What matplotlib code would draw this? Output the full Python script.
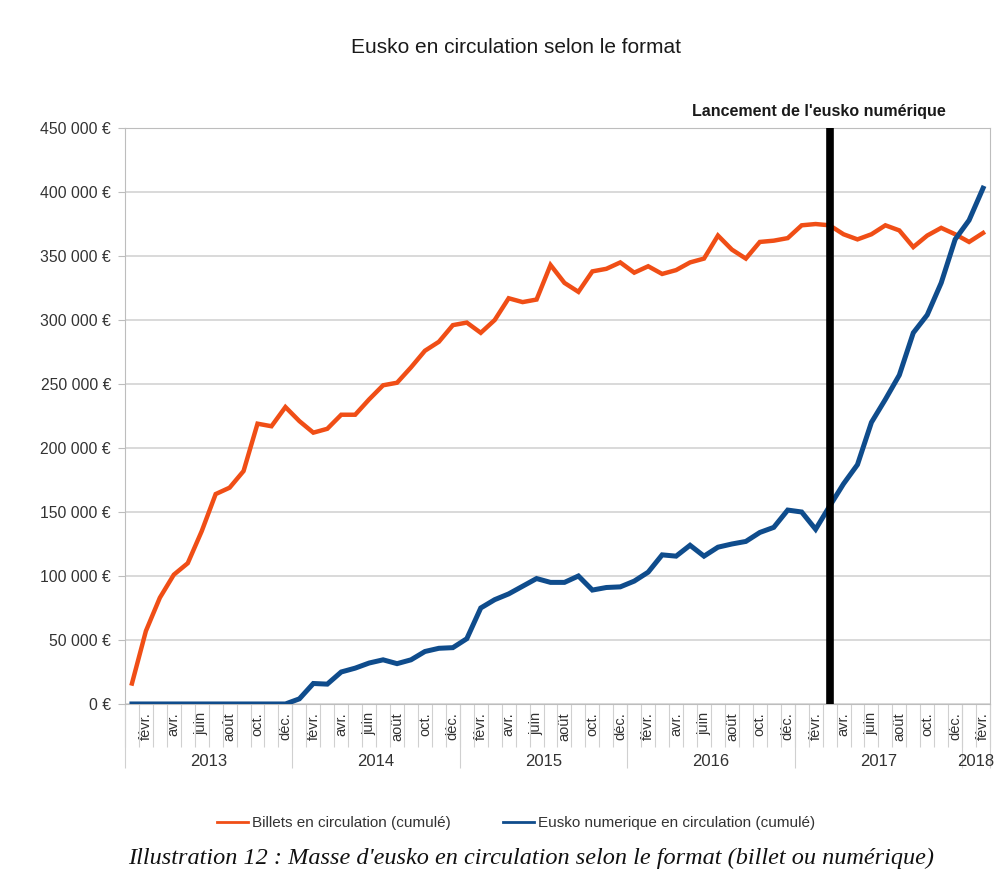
import matplotlib

matplotlib.use("Agg")
import matplotlib.pyplot as plt
from matplotlib.ticker import FuncFormatter

plt.rcParams["font.family"] = ["Liberation Sans", "DejaVu Sans"]

# month-by-month values, jan 2013 .. feb 2018
month_names = ["janv.", "févr.", "mars", "avr.", "mai", "juin",
               "juil.", "août", "sept.", "oct.", "nov.", "déc."]
years = ["2013", "2014", "2015", "2016", "2017", "2018"]
n_months = 62

billets = [16000, 57000, 83000, 101000, 110000, 135000, 164000, 169000, 182000, 219000, 217000, 232000,
           221000, 212000, 215000, 226000, 226000, 238000, 249000, 251000, 263000, 276000, 283000, 296000,
           298000, 290000, 300000, 317000, 314000, 316000, 343000, 329000, 322000, 338000, 340000, 345000,
           337000, 342000, 336000, 339000, 345000, 348000, 366000, 355000, 348000, 361000, 362000, 364000,
           374000, 375000, 374000, 367000, 363000, 367000, 374000, 370000, 357000, 366000, 372000, 367000,
           361000, 368000]
numerique = [0, 0, 0, 0, 0, 0, 0, 0, 0, 0, 0, 0,
             4000, 16000, 15500, 25000, 28000, 32000, 34500, 31500, 34500, 41000, 43500, 44000,
             51000, 75000, 81500, 86000, 92000, 98000, 95000, 95000, 100000, 89000, 91000, 91500,
             96000, 103000, 116500, 115500, 124000, 115500, 122500, 125000, 127000, 134000, 138000, 151500,
             150000, 136500, 154500, 172000, 187000, 220000, 238000, 257000, 290000, 304000, 329000, 363000,
             378000, 403000]
launch_index = 50  # mars 2017

labels = [month_names[i % 12] for i in range(n_months)]
x = list(range(n_months))

fig = plt.figure(figsize=(9.95, 8.77), dpi=100)
ax = fig.add_axes([0.1256, 0.1973, 0.8694, 0.6567])

ax.plot(x, billets, color="#f04e16", lw=3.2, solid_joinstyle="miter",
        label="Billets en circulation (cumulé)", zorder=3)
ax.plot(x, numerique, color="#0f4c8c", lw=3.6, solid_joinstyle="miter",
        label="Eusko numerique en circulation (cumulé)", zorder=3)
ax.axvline(launch_index, color="black", lw=5.5, zorder=4)
ax.text(launch_index - 0.8, 457000, "Lancement de l'eusko numérique", ha="center", va="bottom",
        fontsize=11.5, fontweight="bold", color="#1a1a1a")

ax.set_xlim(-0.5, n_months - 0.5)
ax.set_ylim(0, 450000)
ax.set_yticks(range(0, 450001, 50000))
ax.yaxis.set_major_formatter(FuncFormatter(lambda v, p: f"{int(v):,} €".replace(",", " ")))
ax.grid(axis="y", color="#cfcfcf", lw=1.1)
ax.set_axisbelow(True)
for s in ax.spines.values():
    s.set_color("#bdbdbd")
ax.tick_params(axis="y", length=5, color="#bdbdbd", labelsize=11.3, labelcolor="#333333", pad=5)

# month labels every other month, separators between months
label_pos = [i for i in x if i % 2 == 1]
ax.set_xticks(label_pos, [labels[i] for i in label_pos], rotation=90)
ax.tick_params(axis="x", which="major", length=0, labelsize=10.5, labelcolor="#333333", pad=6)
ax.set_xticks([i - 0.5 for i in range(n_months + 1)], minor=True)
ax.tick_params(axis="x", which="minor", length=31, width=0.8, color="#d0d0d0")

# year labels and year separators
sec = ax.secondary_xaxis("bottom")
year_bounds = [-0.5] + [12 * k - 0.5 for k in range(1, 6)] + [n_months - 0.5]
sec.set_xticks(year_bounds, [""] * len(year_bounds))
sec.tick_params(axis="x", which="major", length=46, width=0.8, color="#d0d0d0")
year_centers = [(year_bounds[k] + year_bounds[k + 1]) / 2 for k in range(len(years))]
sec.set_xticks(year_centers, years, minor=True)
sec.tick_params(axis="x", which="minor", length=0, labelsize=12, labelcolor="#333333", pad=36)
sec.spines["bottom"].set_visible(False)

fig.text(0.519, 0.946, "Eusko en circulation selon le format", ha="center", va="center",
         fontsize=15, color="#1a1a1a")

leg = fig.legend(loc="center", bbox_to_anchor=(0.519, 0.0616), ncol=2, frameon=False,
                 fontsize=11, handlelength=2.0, handletextpad=0.3, columnspacing=3.4,
                 labelcolor="#333333")
for h in leg.legend_handles:
    h.set_linewidth(2)

fig.text(0.534, 0.021, "Illustration 12 : Masse d'eusko en circulation selon le format (billet ou numérique)",
         ha="center", va="center", fontsize=17.5, style="italic", family="Liberation Serif", color="#111111")

fig.savefig("out.png", dpi=100, facecolor="white")
